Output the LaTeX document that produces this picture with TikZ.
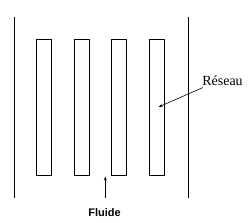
\documentclass[tikz,border=0pt]{standalone}
\usepackage{fontspec}
\setmainfont{Liberation Serif}
\newfontfamily\arialbf{Liberation Sans}[BoldFont={Liberation Sans Bold}]
\usetikzlibrary{arrows.meta,positioning}

\begin{document}
\begin{tikzpicture}[
  x=1pt, y=-1pt,
  node distance=22.6pt,
  plaque/.style={rectangle, draw=black, fill=white, line width=0.8pt,
                 minimum width=15pt, minimum height=136.4pt,
                 inner sep=0pt, outer sep=0pt},
  paroi/.style={line width=0.9pt},
  arr/.style={-{Stealth[length=4pt,width=3pt]}, line width=0.6pt},
  lbl/.style={inner sep=0pt},
]
  \useasboundingbox (0,0) rectangle (250,223);
  % parois du canal
  \draw[paroi] (14,17) -- (14,198);
  \draw[paroi] (188,17) -- (188,198);
  % plaques du reseau
  \node[plaque, anchor=north west](p1) at (36.7,39.3) {};
  \node[plaque, right=of p1](p2) {};
  \node[plaque, right=of p2](p3) {};
  \node[plaque, right=of p3](p4) {};
  % etiquettes
  \node[lbl, font=\fontsize{14}{16}\selectfont](res) at (222.5,81) {Réseau};
  \coordinate (depart) at (203,87.5);
  \coordinate (cible) at (158.5,107);
  \draw[arr] (depart) -- (cible);
  \node[lbl, font=\arialbf\bfseries\fontsize{11}{13}\selectfont](fl) at (104.5,212.5) {Fluide};
  \coordinate (bas) at (105.3,198);
  \coordinate (entree) at (105.3,176.5);
  \draw[arr] (bas) -- (entree);
\end{tikzpicture}
\end{document}
